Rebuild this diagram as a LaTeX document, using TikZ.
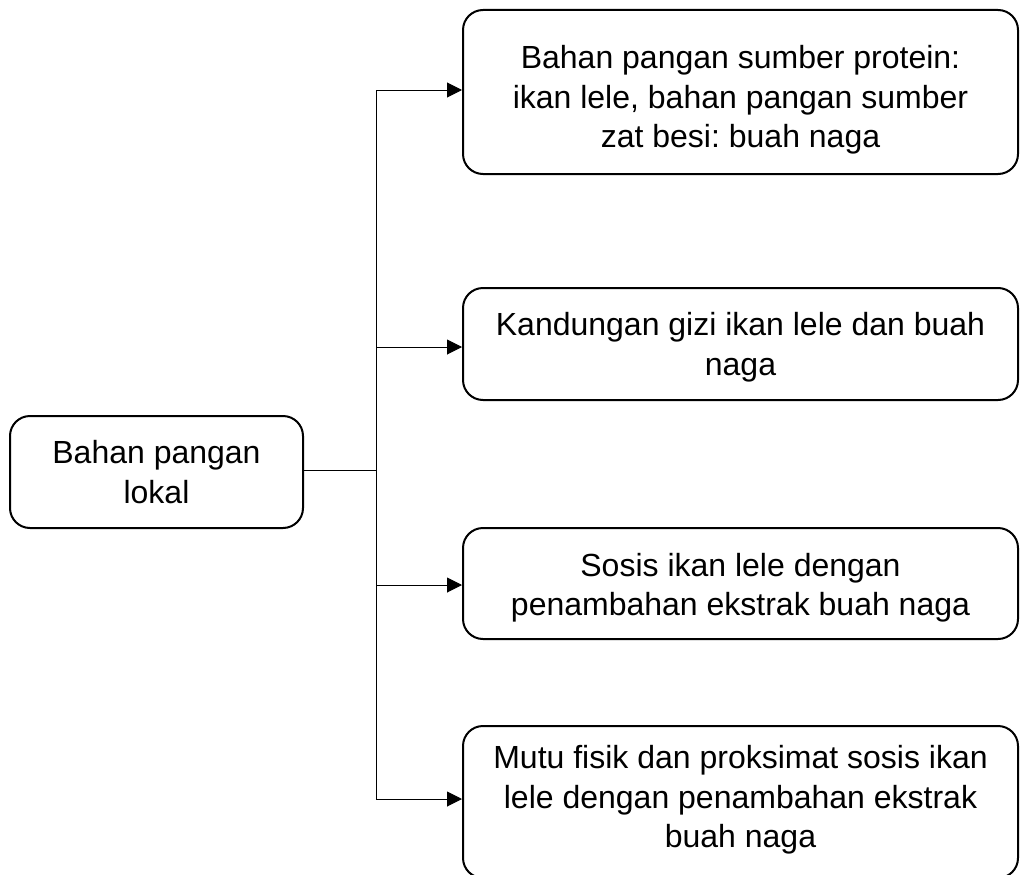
\documentclass[tikz,border=0pt]{standalone}
\usepackage{fontspec}
\setmainfont{Liberation Sans}
\frenchspacing
\usetikzlibrary{arrows.meta}
\begin{document}
\begin{tikzpicture}[x=1pt,y=-1pt,
  box/.style={draw,line width=2pt,rounded corners=20pt,inner sep=0pt},
  txt/.style={align=center,inner sep=0pt,font=\fontsize{32}{39.5}\selectfont},
  link/.style={line width=1pt},
  arr/.style={link,-{Triangle[length=15pt,width=15pt]}}]
\useasboundingbox (0,0) rectangle (1025,875);
\clip (0,0) rectangle (1025,875);
\node[box,minimum width=293pt,minimum height=112pt] (src) at (156.5,472) {};
\node[txt] (srct) at (src.center) {Bahan pangan\\lokal};
\node[box,minimum width=555pt,minimum height=164pt] (b1) at (740.5,92) {};
\node[txt] (b1t) at ([yshift=-8]b1.center) {Bahan pangan sumber protein:\\ikan lele, bahan pangan sumber\\zat besi: buah naga};
\node[box,minimum width=555pt,minimum height=112pt] (b2) at (740.5,344) {};
\node[txt] (b2t) at ([yshift=-3]b2.center) {Kandungan gizi ikan lele dan buah\\naga};
\node[box,minimum width=555pt,minimum height=111pt] (b3) at (740.5,583.5) {};
\node[txt] (b3t) at ([yshift=-4]b3.center) {Sosis ikan lele dengan\\penambahan ekstrak buah naga};
\node[box,minimum width=555pt,minimum height=152pt] (b4) at (740.5,802) {};
\node[txt] (b4t) at ([yshift=2]b4.center) {Mutu fisik dan proksimat sosis ikan\\lele dengan penambahan ekstrak\\buah naga};
\coordinate (j) at (376,470);
\coordinate (t1) at (376,90);
\coordinate (t2) at (376,347);
\coordinate (t3) at (376,585);
\coordinate (t4) at (376,799);
\draw[link] (src.east |- j) -- (j);
\draw[link] (t1) -- (t4);
\draw[arr] (t1) -- (b1.west |- t1);
\draw[arr] (t2) -- (b2.west |- t2);
\draw[arr] (t3) -- (b3.west |- t3);
\draw[arr] (t4) -- (b4.west |- t4);
\end{tikzpicture}
\end{document}
